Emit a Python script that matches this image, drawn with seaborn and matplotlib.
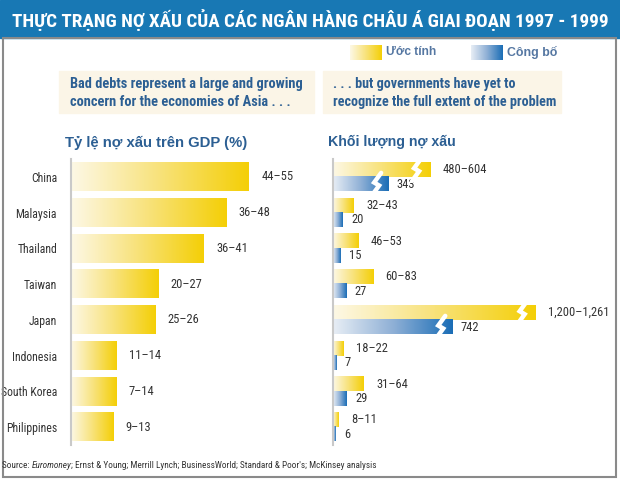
import numpy as np
import pandas as pd
import matplotlib.pyplot as plt
import seaborn as sns
from matplotlib.colors import LinearSegmentedColormap
from matplotlib.patches import Rectangle


countries = ["China", "Malaysia", "Thailand", "Taiwan", "Japan", "Indonesia", "South Korea", "Philippines"]
gdp_low = [44, 36, 36, 20, 25, 11, 7, 9]
gdp_high = [55, 48, 41, 27, 26, 14, 14, 13]
est_low = [480, 32, 46, 60, 1200, 18, 31, 8]
est_high = [604, 43, 53, 83, 1261, 22, 64, 11]
reported = [343, 20, 15, 27, 742, 7, 29, 6]
kinds = ["Ước tính", "Công bố"]

BREAK_AT = 300      # bars above this are drawn on a compressed (broken) scale
BREAK_FACTOR = 3.0

W, H = 620, 480
TITLE_BLUE = "#1878b4"
HEAD_BLUE = "#2c5f93"
TEXT = "#333333"
WIDE = ["Liberation Sans", "DejaVu Sans"]
yellow_cm = LinearSegmentedColormap.from_list("yel", ["#fdf8e6", "#f8e27a", "#f4cf06"])
blue_cm = LinearSegmentedColormap.from_list("blu", ["#e8eef5", "#8fb0d6", "#1a6db6"])

sns.set_style("white")
plt.rcParams["font.family"] = ["Roboto Condensed", "Archivo Narrow", "Liberation Sans Narrow",
                               "Liberation Sans", "DejaVu Sans"]

fig = plt.figure(figsize=(W / 100, H / 100), dpi=100)
renderer = fig.canvas.get_renderer()


def fx(px):
    return px / W


def fy(py):
    return 1 - py / H


def fit_width(t, width_px):
    # scale a text so it spans about width_px pixels
    w = t.get_window_extent(renderer).width
    t.set_fontsize(t.get_fontsize() * width_px / w)


def gradient_fill(ax, patch, cmap):
    bb = patch.get_window_extent().transformed(ax.transAxes.inverted())
    grad = np.linspace(0, 1, 256).reshape(1, -1)
    ax.imshow(grad, extent=[bb.x0, bb.x1, bb.y0, bb.y1], transform=ax.transAxes,
              aspect="auto", cmap=cmap, clip_path=patch, zorder=patch.get_zorder() + 0.1)


def break_mark(ax, patch, back_px):
    bb = patch.get_window_extent()
    cx = bb.x1 - back_px
    cy = (bb.y0 + bb.y1) / 2
    h = bb.height / 2 + 4
    pts = np.array([[cx + 5, cy + h], [cx - 2, cy + 1.5], [cx + 3, cy - 1.5], [cx - 4, cy - h]])
    pts = ax.transAxes.inverted().transform(pts)
    ax.plot(pts[:, 0], pts[:, 1], color="white", lw=3.2, transform=ax.transAxes,
            solid_joinstyle="miter", clip_on=False, zorder=5)


def style_axis(ax):
    sns.despine(ax=ax, left=False, bottom=True, right=True, top=True)
    ax.spines["left"].set_color("#c9c9c9")
    ax.spines["left"].set_linewidth(1.5)
    ax.set_xticks([])
    ax.set_xlabel("")
    ax.set_ylabel("")
    ax.tick_params(axis="y", length=0, pad=10, labelsize=8.5, labelcolor=TEXT)
    ax.set_ylim(len(countries) - 0.5, -0.5)


# title bar and frame
fig.patches.append(Rectangle((0, fy(38)), 1, 38 / H, transform=fig.transFigure,
                             color=TITLE_BLUE, zorder=0))
fig.patches.append(Rectangle((fx(3), fy(477)), fx(613), (477 - 38) / H, transform=fig.transFigure,
                             fill=False, edgecolor="#8a8a8a", lw=1.5, zorder=0))
title = fig.text(fx(12), fy(20), "THỰC TRẠNG NỢ XẤU CỦA CÁC NGÂN HÀNG CHÂU Á GIAI ĐOẠN 1997 - 1999",
                 ha="left", va="center", color="white", fontweight="bold", fontsize=14)
fit_width(title, 598)

# legend
for x0, cm, label in [(350, yellow_cm, kinds[0]), (471, blue_cm, kinds[1])]:
    lax = fig.add_axes([fx(x0), fy(60), fx(32), 15 / H])
    lax.imshow(np.linspace(0, 1, 256).reshape(1, -1), aspect="auto", cmap=cm)
    lax.axis("off")
    lt = fig.text(fx(x0 + 36), fy(52), label, ha="left", va="center", color="#5577a2",
                  fontsize=9, fontweight="bold", family=WIDE)
    fit_width(lt, 50)

# subtitle boxes
fig.patches.append(Rectangle((fx(59), fy(113)), fx(255), 42 / H, transform=fig.transFigure,
                             color="#fbf5e7", zorder=0))
fig.patches.append(Rectangle((fx(323), fy(113)), fx(238), 42 / H, transform=fig.transFigure,
                             color="#fbf5e7", zorder=0))
sub1 = fig.text(fx(70), fy(93), "Bad debts represent a large and growing\nconcern for the economies of Asia . . .",
                ha="left", va="center", color=HEAD_BLUE, fontweight="bold", fontsize=10, linespacing=1.3)
fit_width(sub1, 234)
sub2 = fig.text(fx(333), fy(93), ". . . but governments have yet to\nrecognize the full extent of the problem",
                ha="left", va="center", color=HEAD_BLUE, fontweight="bold", fontsize=10, linespacing=1.3)
fit_width(sub2, 223)

# panel headings
h1 = fig.text(fx(65), fy(143), "Tỷ lệ nợ xấu trên GDP (%)", ha="left", va="center",
              color=HEAD_BLUE, fontweight="bold", fontsize=10, family=WIDE)
fit_width(h1, 183)
h2 = fig.text(fx(328), fy(142), "Khối lượng nợ xấu", ha="left", va="center",
              color=HEAD_BLUE, fontweight="bold", fontsize=10, family=WIDE)
fit_width(h2, 127)

# left panel: bad debts as % of GDP
row_top, row_bot = 159, 445
ax1 = fig.add_axes([fx(71), fy(row_bot), fx(194), (row_bot - row_top) / H])
gdp = pd.DataFrame({"country": countries, "low": gdp_low, "high": gdp_high})
sns.barplot(data=gdp, x="high", y="country", color="#f4cf06", width=0.8, saturation=1, ax=ax1)
ax1.set_xlim(0, 60)
style_axis(ax1)
for p in ax1.patches:
    gradient_fill(ax1, p, yellow_cm)
ax1.bar_label(ax1.containers[0], labels=[f"{a}–{b}" for a, b in zip(gdp_low, gdp_high)],
              padding=9, fontsize=9, color=TEXT)

# right panel: volume of bad debts, large values on a broken scale
ax2 = fig.add_axes([fx(333), fy(row_bot), fx(270), (row_bot - row_top) / H])
vol = pd.DataFrame({
    "country": countries * 2,
    "kind": [kinds[0]] * len(countries) + [kinds[1]] * len(countries),
    "value": est_high + reported,
})
vol["shown"] = np.where(vol["value"] > BREAK_AT, vol["value"] / BREAK_FACTOR, vol["value"])
sns.barplot(data=vol, x="shown", y="country", hue="kind", hue_order=kinds, dodge=True, width=0.8,
            palette=["#f4cf06", "#1a6db6"], saturation=1, legend=False, ax=ax2)
ax2.set_xlim(0, 560)
style_axis(ax2)
ax2.set_yticks([])

cont_est, cont_rep = ax2.containers[0], ax2.containers[1]
for cont, cm, back, vals in [(cont_est, yellow_cm, 14, est_high), (cont_rep, blue_cm, 12, reported)]:
    for p, v in zip(cont.patches, vals):
        gradient_fill(ax2, p, cm)
        if v > BREAK_AT:
            break_mark(ax2, p, back)

est_labels = [f"{a:,}–{b:,}" for a, b in zip(est_low, est_high)]
ax2.bar_label(cont_est, labels=est_labels, padding=9, fontsize=9, color=TEXT)
ax2.bar_label(cont_rep, labels=[str(v) for v in reported], padding=6, fontsize=9, color=TEXT)

# source line
x = fx(2)
parts = [("Source: ", "normal"), ("Euromoney", "italic"),
         ("; Ernst & Young; Merrill Lynch; BusinessWorld; Standard & Poor's; McKinsey analysis", "normal")]
for part, style in parts:
    t = fig.text(x, fy(466), part, ha="left", va="center", fontsize=6.7, color=TEXT, fontstyle=style)
    x = fig.transFigure.inverted().transform((t.get_window_extent(renderer).x1, 0))[0]

fig.savefig("out.png", dpi=100)
